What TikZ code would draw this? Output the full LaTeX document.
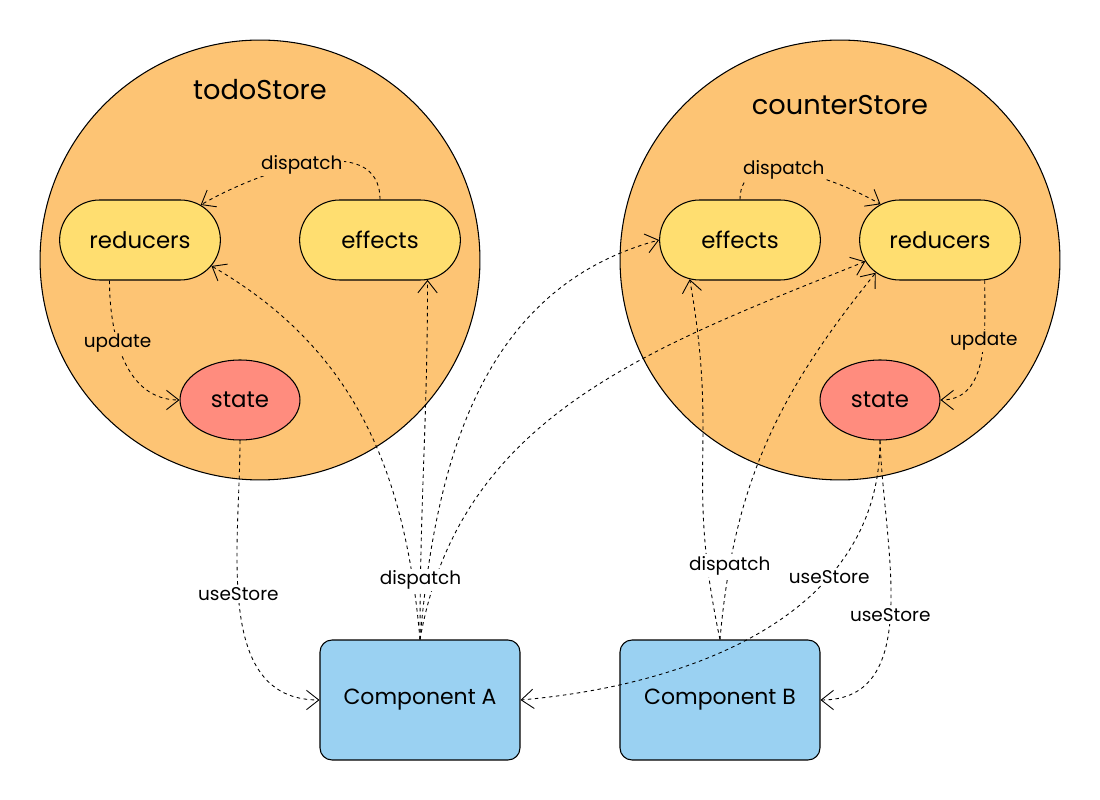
\documentclass[tikz,border=0pt]{standalone}
\usepackage{fontspec}
\setmainfont{Poppins}
\usetikzlibrary{arrows.meta,shapes.misc,shapes.geometric}

\definecolor{storefill}{HTML}{FDC474}
\definecolor{partfill}{HTML}{FFDE70}
\definecolor{statefill}{HTML}{FF8C7E}
\definecolor{compfill}{HTML}{9AD1F2}

\begin{document}
\begin{tikzpicture}[x=0.02cm, y=-0.02cm, >={Straight Barb[length=7pt,width=11pt]},
  store/.style={circle, draw, fill=storefill, minimum size=8.8cm, inner sep=0pt, line width=0.6pt},
  title/.style={font=\fontsize{15.5}{18}\selectfont},
  part/.style={rounded rectangle, draw, fill=partfill, minimum width=3.45cm, minimum height=1.6cm,
               line width=0.6pt, font=\fontsize{13}{15}\selectfont},
  statenode/.style={ellipse, draw, fill=statefill, minimum width=2.4cm, minimum height=1.6cm,
               line width=0.6pt, font=\fontsize{13}{15}\selectfont},
  comp/.style={rectangle, rounded corners=0.24cm, draw, fill=compfill, minimum width=4cm,
               minimum height=2.4cm, line width=0.6pt, font=\fontsize{12.5}{15}\selectfont},
  flow/.style={->, dash pattern=on 2pt off 2pt, line width=0.5pt},
  lbl/.style={font=\fontsize{10.5}{12}\selectfont, inner sep=1pt, fill=#1},
  lbl/.default=white]

  \useasboundingbox (0,0) rectangle (1100,800);

  % stores
  \node[store] (todo)    at (260,260) {};
  \node[store] (counter) at (840,260) {};
  \node[title] (todoT)    at (260,90)  {todoStore};
  \node[title] (counterT) at (840,105) {counterStore};

  % todoStore parts
  \node[part]      (lred)   at (140,240) {reducers};
  \node[part]      (leff)   at (380,240) {effects};
  \node[statenode] (lstate) at (240,400) {state};

  % counterStore parts
  \node[part]      (reff)   at (740,240) {effects};
  \node[part]      (rred)   at (940,240) {reducers};
  \node[statenode] (rstate) at (880,400) {state};

  % components
  \node[comp] (compA) at (420,700) {Component A};
  \node[comp] (compB) at (720,700) {Component B};

  % inside todoStore
  \draw[flow] (leff.north) to[out=90, in=30]
      node[lbl=storefill, pos=0.55] (ldisp) {dispatch} (lred.30);
  \draw[flow] (lred.233) to[out=-90, in=180]
      node[lbl=storefill, pos=0.38] (lupd) {update} (lstate.west);

  % inside counterStore
  \draw[flow] (reff.north) to[out=90, in=150]
      node[lbl=storefill, pos=0.45] (rdisp) {dispatch} (rred.149);
  \draw[flow] (rred.-42) to[out=-90, in=0]
      node[lbl=storefill, pos=0.38] (rupd) {update} (rstate.east);

  % Component A dispatches
  \draw[flow] (compA.north) to[out=95, in=-30] (lred.-20);
  \draw[flow] (compA.north) to[out=85, in=195] (reff.west);
  \draw[flow] (compA.north) to[out=80, in=-158] (rred.196);
  \draw[flow] (compA.north) to[out=90, in=-90]
      node[lbl, pos=0.15] (adisp) {dispatch} (leff.-40);

  % Component B dispatches
  \draw[flow] (compB.north) to[out=102, in=-80, looseness=1.2] (reff.218);
  \draw[flow] (compB.north) to[out=85, in=-129]
      node[lbl, pos=0.17] (bdisp) {dispatch} (rred.207);

  % useStore
  \draw[flow] (lstate.south) to[out=-90, in=180]
      node[lbl, pos=0.45] (luse) {useStore} (compA.west);
  \draw[flow] (rstate.south) to[out=-90, in=5]
      node[lbl, pos=0.32] (ruseA) {useStore} (compA.east);
  \draw[flow] (rstate.south) to[out=-88, in=0]
      node[lbl, pos=0.52] (ruseB) {useStore} (compB.east);

\end{tikzpicture}
\end{document}
